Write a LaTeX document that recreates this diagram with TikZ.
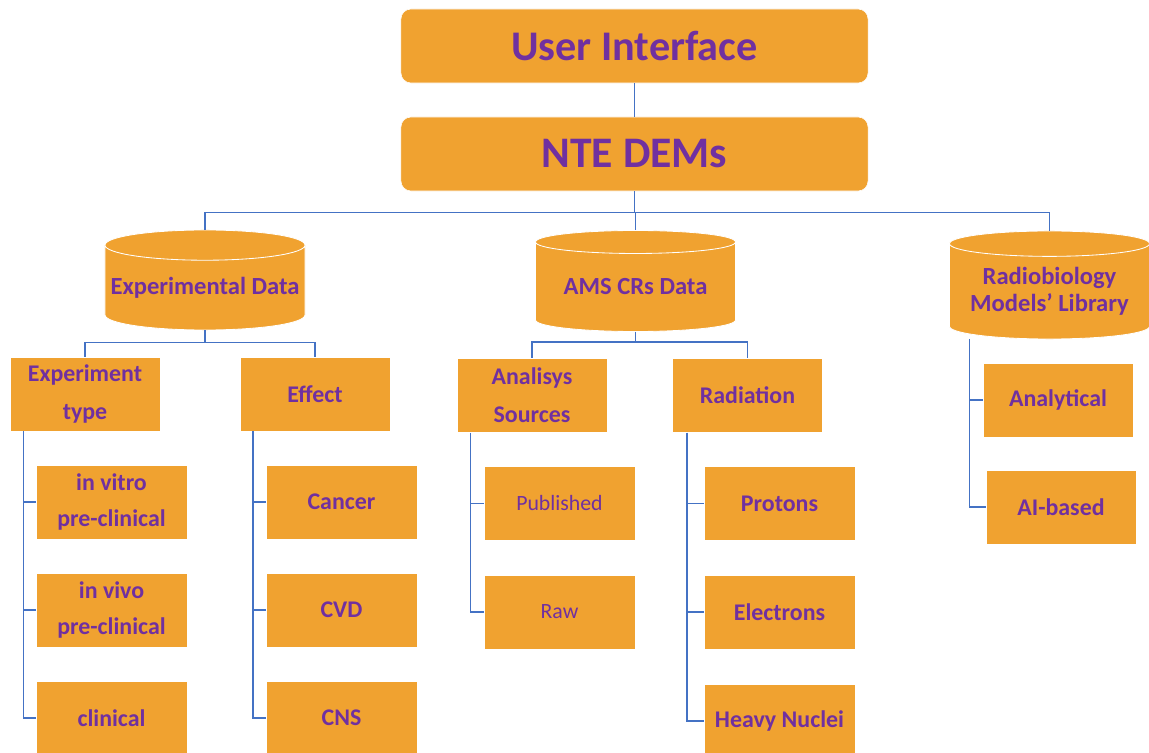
\documentclass[tikz,border=0pt]{standalone}
\usepackage{fontspec}
\setmainfont{Carlito}
\usetikzlibrary{shapes.geometric}

\definecolor{boxorange}{RGB}{240,162,48}
\definecolor{txtpurple}{RGB}{112,48,160}
\definecolor{linkblue}{RGB}{68,114,196}

\tikzset{
  topbox/.style={draw=white, fill=boxorange, rounded corners=0.25cm,
    minimum width=11.675cm, minimum height=1.85cm, inner sep=0pt,
    text=txtpurple, font=\fontsize{30}{36}\selectfont\bfseries},
  store/.style={cylinder, shape border rotate=90, aspect=0.16,
    anchor=shape center, draw=white, line width=0.6pt, fill=boxorange,
    minimum width=5cm, inner sep=0pt, align=center, text=txtpurple,
    font=\fontsize{17.5}{19}\selectfont\bfseries},
  catbox/.style={draw=white, fill=boxorange, minimum width=3.75cm,
    minimum height=1.85cm, inner sep=0pt, align=center, text=txtpurple,
    font=\fontsize{17}{27}\selectfont\bfseries},
  leafbox/.style={catbox, minimum width=3.775cm,
    font=\fontsize{17}{26}\selectfont\bfseries},
  plainleaf/.style={leafbox, font=\fontsize{15.5}{20}\selectfont},
  link/.style={draw=linkblue, line width=1.1pt},
}

\begin{document}
\begin{tikzpicture}[x=0.025cm, y=-0.025cm]
  \clip (0,0) rectangle (1149,753);
  \fill[white] (0,0) rectangle (1149,753);

  % top of the tree
  \node[topbox] (ui) at (634.5,46) {User Interface};
  \node[topbox, font=\fontsize{31}{36}\selectfont\bfseries] (nte) at (634.5,154) {NTE DEMs};

  % data stores
  \node[store, minimum height=2.5cm] (exp) at (205,280) {Experimental Data};
  \node[store, minimum height=2.525cm] (ams) at (635.5,281) {AMS CRs Data};
  \node[store, minimum height=2.7cm] (lib) at (1049.5,285) {Radiobiology\\Models’ Library};

  % second level
  \node[catbox] (exptype) at (85,394) {Experiment\\type};
  \node[catbox] (effect) at (315,394) {Effect};
  \node[catbox] (sources) at (532,395.5) {Analisys\\Sources};
  \node[catbox] (radiation) at (747.5,395.5) {Radiation};

  % leaves
  \node[leafbox] (vitro) at (111.5,502) {in vitro\\pre-clinical};
  \node[leafbox] (vivo) at (111.5,610) {in vivo\\pre-clinical};
  \node[leafbox] (clinical) at (111.5,718) {clinical};
  \node[leafbox] (cancer) at (341.5,502) {Cancer};
  \node[leafbox] (cvd) at (341.5,610) {CVD};
  \node[leafbox] (cns) at (341.5,718) {CNS};
  \node[plainleaf] (published) at (559.5,503.5) {Published};
  \node[plainleaf] (raw) at (559.5,612) {Raw};
  \node[leafbox] (protons) at (779.5,503.5) {Protons};
  \node[leafbox] (electrons) at (779.5,612) {Electrons};
  \node[leafbox] (heavy) at (779.5,721) {Heavy Nuclei};
  \node[leafbox, minimum width=3.75cm] (analytical) at (1058,400) {Analytical};
  \node[leafbox, minimum width=3.75cm] (aibased) at (1061,507) {AI-based};

  % connectors
  \draw[link] (ui) -- (nte);
  \draw[link] (nte.south) -- ++(0,21) -| (exp.north);
  \draw[link] (nte.south) -- ++(0,21) -| (ams.north);
  \draw[link] (nte.south) -- ++(0,21) -| (lib.north);
  \draw[link] (exp.south) -- ++(0,12) -| (exptype.north);
  \draw[link] (exp.south) -- ++(0,12) -| (effect.north);
  \draw[link] (ams.south) -- ++(0,10) -| (sources.north);
  \draw[link] (ams.south) -- ++(0,10) -| (radiation.north);
  \foreach \leaf in {vitro,vivo,clinical}
    \draw[link] ([xshift=0.35cm]exptype.south west) |- (\leaf.west);
  \foreach \leaf in {cancer,cvd,cns}
    \draw[link] ([xshift=0.33cm]effect.south west) |- (\leaf.west);
  \foreach \leaf in {published,raw}
    \draw[link] ([xshift=0.35cm]sources.south west) |- (\leaf.west);
  \foreach \leaf in {protons,electrons,heavy}
    \draw[link] ([xshift=0.375cm]radiation.south west) |- (\leaf.west);
  \foreach \leaf in {analytical,aibased}
    \draw[link] ([xshift=-2cm]lib.south) |- (\leaf.west);
\end{tikzpicture}
\end{document}
